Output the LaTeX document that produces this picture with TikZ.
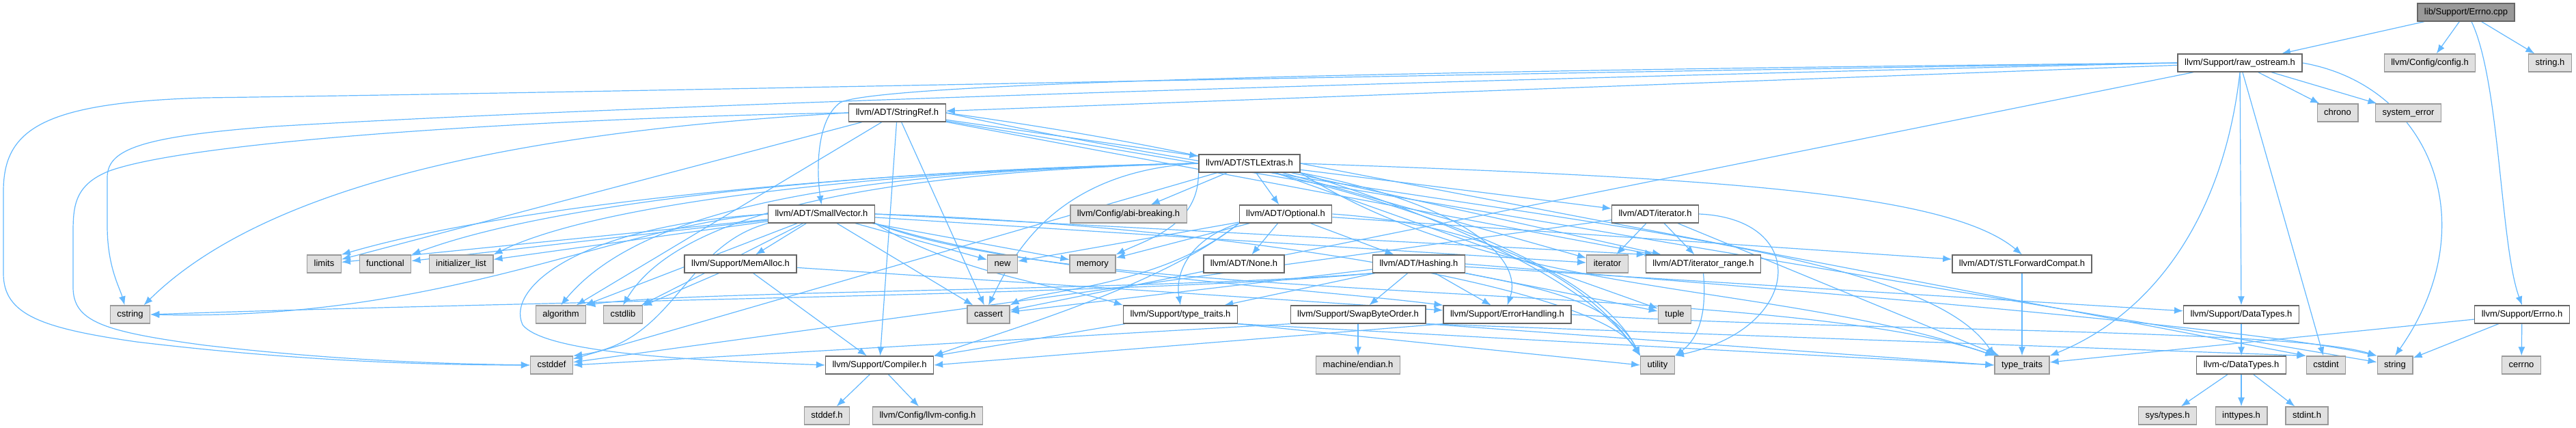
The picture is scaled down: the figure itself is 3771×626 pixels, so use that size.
\documentclass[tikz,border=0pt]{standalone}
\usepackage{fontspec}
\setmainfont{Liberation Sans}
\usetikzlibrary{arrows.meta,backgrounds}
\definecolor{edgeBlue}{HTML}{63B8FF}
\definecolor{boxLine}{HTML}{666666}
\definecolor{extLine}{HTML}{999999}
\definecolor{extFill}{HTML}{E0E0E0}
\definecolor{rootFill}{HTML}{999999}
\tikzset{
  incbox/.style={draw=boxLine, line width=1.3pt, fill=white, minimum height=26pt,
    inner xsep=10pt, inner ysep=0pt, text height=9.6pt, text depth=2.6pt,
    font=\fontsize{13}{15}\selectfont, text=black},
  sysbox/.style={incbox, draw=extLine, fill=extFill},
  rootbox/.style={incbox, fill=rootFill},
  dep/.style={-{Latex[length=13pt,width=10pt]}, line width=1.2pt, draw=edgeBlue}
}

\begin{document}
\begin{tikzpicture}[x=1pt, y=-1pt]
  \useasboundingbox (0,0) rectangle (3771,626);

  \node[rootbox] (errnocpp) at (3610,18) {lib/Support/Errno.cpp};

  \node[incbox] (rawostream) at (3279,92) {llvm/Support/raw\_ostream.h};
  \node[sysbox] (config) at (3557,92) {llvm/Config/config.h};
  \node[sysbox] (stringh) at (3733,92) {string.h};

  \node[incbox] (stringref) at (1313.5,165) {llvm/ADT/StringRef.h};
  \node[sysbox] (chrono) at (3422,165) {chrono};
  \node[sysbox] (syserror) at (3525.5,165) {system\_error};

  \node[incbox] (stlextras) at (1829,239) {llvm/ADT/STLExtras.h};

  \node[incbox] (smallvector) at (1202.5,313) {llvm/ADT/SmallVector.h};
  \node[sysbox] (abibreaking) at (1652,313) {llvm/Config/abi-breaking.h};
  \node[incbox] (optional) at (1882,313) {llvm/ADT/Optional.h};
  \node[incbox] (iteratorh) at (2423,313) {llvm/ADT/iterator.h};

  \node[sysbox] (limits) at (474.5,386) {limits};
  \node[sysbox] (functional) at (564,386) {functional};
  \node[sysbox] (initlist) at (675,386) {initializer\_list};
  \node[incbox] (memalloc) at (1084,386) {llvm/Support/MemAlloc.h};
  \node[sysbox] (new) at (1467.5,386) {new};
  \node[sysbox] (memory) at (1599.5,386) {memory};
  \node[incbox] (none) at (1821,386) {llvm/ADT/None.h};
  \node[incbox] (hashing) at (2077,386) {llvm/ADT/Hashing.h};
  \node[sysbox] (iterator) at (2353,386) {iterator};
  \node[incbox] (iterrange) at (2493.5,386) {llvm/ADT/iterator\_range.h};
  \node[incbox] (stlfwd) at (2960,386) {llvm/ADT/STLForwardCompat.h};

  \node[sysbox] (cstring) at (190.5,460) {cstring};
  \node[sysbox] (algorithm) at (821,460) {algorithm};
  \node[sysbox] (cstdlib) at (912,460) {cstdlib};
  \node[sysbox] (cassert) at (1447,460) {cassert};
  \node[incbox] (typetraitsh) at (1728,460) {llvm/Support/type\_traits.h};
  \node[incbox] (swapbyte) at (1988,460) {llvm/Support/SwapByteOrder.h};
  \node[incbox] (errorhandling) at (2206.5,460) {llvm/Support/ErrorHandling.h};
  \node[sysbox] (tuple) at (2451.5,460) {tuple};
  \node[incbox] (datatypes) at (3281,460) {llvm/Support/DataTypes.h};
  \node[incbox] (errnoh) at (3692,460) {llvm/Support/Errno.h};

  \node[sysbox] (cstddef) at (807.5,534) {cstddef};
  \node[incbox] (compiler) at (1287.5,534) {llvm/Support/Compiler.h};
  \node[sysbox] (endian) at (1988,534) {machine/endian.h};
  \node[sysbox] (utility) at (2426.5,534) {utility};
  \node[sysbox] (typetraits) at (2960,534) {type\_traits};
  \node[incbox] (cdatatypes) at (3281,534) {llvm-c/DataTypes.h};
  \node[sysbox] (cstdint) at (3405,534) {cstdint};
  \node[sysbox] (string) at (3506,534) {string};
  \node[sysbox] (cerrno) at (3691,534) {cerrno};

  \node[sysbox] (stddef) at (1210.5,608) {stddef.h};
  \node[sysbox] (llvmconfig) at (1358,608) {llvm/Config/llvm-config.h};
  \node[sysbox] (systypes) at (3173,608) {sys/types.h};
  \node[sysbox] (inttypes) at (3281,608) {inttypes.h};
  \node[sysbox] (stdint) at (3377,608) {stdint.h};

  \begin{scope}[on background layer]
    \draw[dep] (errnocpp) -- (rawostream);
    \draw[dep] (errnocpp) -- (config);
    \draw[dep] (errnocpp) -- (stringh);
    \draw[dep] ([xshift=8pt]errnocpp.south) .. controls (3660,120) and (3660,360) .. (errnoh.north);

    \draw[dep] (errnoh) -- (cerrno);
    \draw[dep] (errnoh) -- (string);
    \draw[dep] (errnoh) -- (typetraits);

    \draw[dep] (rawostream.west) .. controls (2400,100) and (1300,115) .. (1230,150) .. controls (1195,175) and (1195,250) .. (smallvector.north);
    \draw[dep] (rawostream) -- (stringref);
    \draw[dep] (rawostream) -- (datatypes);
    \draw[dep] (rawostream) -- (cassert);
    \draw[dep] (rawostream) -- (chrono);
    \draw[dep] (rawostream) -- (syserror);
    \draw[dep] (rawostream) -- (cstdint);
    \draw[dep] (rawostream.west) .. controls (2000,110) and (900,135) .. (300,143) .. controls (60,150) and (5,190) .. (5,280) -- (5,400) .. controls (5,460) and (60,480) .. (200,500) .. controls (450,530) and (650,534) .. (cstddef.west);
    \draw[dep] (rawostream.west) .. controls (2000,120) and (900,155) .. (400,185) .. controls (200,200) and (157,220) .. (157,260) -- (157,330) .. controls (157,390) and (175,420) .. ([xshift=-8pt]cstring.north);
    \draw[dep] (rawostream.east) .. controls (3560,125) and (3640,330) .. (string.north);
    \draw[dep] (rawostream.south) .. controls (3255,320) and (3150,460) .. (typetraits.north east);

    \draw[dep] (stringref) -- (stlextras);
    \draw[dep] (stringref) -- (iterrange);
    \draw[dep] (stringref) -- (compiler);
    \draw[dep] (stringref) -- (algorithm);
    \draw[dep] (stringref) -- (cassert);
    \draw[dep] (stringref) -- (limits);
    \draw[dep] (stringref) -- (string);
    \draw[dep] (stringref.east) .. controls (2100,320) and (2800,340) .. (typetraits.north west);
    \draw[dep] (stringref.east) .. controls (2000,250) and (2330,380) .. (utility.north west);
    \draw[dep] (stringref.west) .. controls (900,170) and (300,200) .. (160,250) .. controls (110,270) and (107,300) .. (107,340) -- (107,420) .. controls (107,470) and (150,485) .. (300,505) .. controls (500,528) and (650,532) .. (cstddef.west);
    \draw[dep] (stringref.west) .. controls (800,190) and (400,260) .. ([xshift=20pt]cstring.north);

    \draw[dep] (stlextras) -- (optional);
    \draw[dep] (stlextras.east) .. controls (2500,260) and (2850,280) .. (stlfwd.north);
    \draw[dep] (stlextras) -- (iteratorh);
    \draw[dep] (stlextras) -- (iterrange);
    \draw[dep] (stlextras) -- (abibreaking);
    \draw[dep] (stlextras.south east) .. controls (2150,300) and (2230,380) .. (errorhandling.north);
    \draw[dep] (stlextras.west) .. controls (1300,250) and (950,290) .. (algorithm.north);
    \draw[dep] (stlextras.west) .. controls (1540,250) and (1480,380) .. (cassert.north);
    \draw[dep] (stlextras) -- (cstddef);
    \draw[dep] (stlextras.east) -- (cstdint.north west);
    \draw[dep] (stlextras.west) .. controls (1330,250) and (1000,300) .. (cstdlib.north);
    \draw[dep] (stlextras.west) .. controls (1400,245) and (850,280) .. (functional.north east);
    \draw[dep] (stlextras.west) .. controls (1400,245) and (900,285) .. (initlist.north east);
    \draw[dep] (stlextras) -- (iterator);
    \draw[dep] (stlextras.west) .. controls (1400,245) and (800,285) .. (limits.north east);
    \draw[dep] (stlextras.south west) .. controls (1755,330) and (1680,350) .. (memory.north east);
    \draw[dep] (stlextras) -- (tuple);
    \draw[dep] (stlextras.south east) .. controls (2200,440) and (2600,410) .. (typetraits.north west);
    \draw[dep] (stlextras.south east) .. controls (2150,330) and (2330,420) .. (utility.north west);

    \draw[dep] (smallvector.east) -- (iterrange.north west);
    \draw[dep] (smallvector.south east) .. controls (1500,400) and (1900,420) .. (errorhandling.north west);
    \draw[dep] (smallvector) -- (memalloc);
    \draw[dep] (smallvector.south east) .. controls (1400,400) and (1560,420) .. (typetraitsh.north west);
    \draw[dep] (smallvector) -- (algorithm);
    \draw[dep] (smallvector) -- (cassert);
    \draw[dep] (smallvector) -- (cstdlib);
    \draw[dep] (smallvector) -- (functional);
    \draw[dep] (smallvector) -- (initlist);
    \draw[dep] (smallvector) -- (iterator);
    \draw[dep] (smallvector) -- (limits);
    \draw[dep] (smallvector) -- (memory);
    \draw[dep] (smallvector) -- (new);
    \draw[dep] (smallvector.south east) .. controls (1600,450) and (2600,410) .. (typetraits.north west);
    \draw[dep] (smallvector.east) .. controls (1800,330) and (2340,420) .. (utility.north west);
    \draw[dep] (smallvector.west) .. controls (850,330) and (740,420) .. (765,475) .. controls (800,520) and (1050,528) .. (compiler.west);
    \draw[dep] (smallvector.south west) .. controls (1000,360) and (990,500) .. (cstddef.north east);
    \draw[dep] (smallvector.west) .. controls (900,330) and (650,470) .. (cstring.east);

    \draw[dep] (optional) -- (hashing);
    \draw[dep] (optional) -- (none);
    \draw[dep] (optional) -- (stlfwd);
    \draw[dep] (optional.south west) .. controls (1700,420) and (1450,490) .. (compiler.north east);
    \draw[dep] (optional.south west) .. controls (1740,350) and (1720,400) .. (typetraitsh.north);
    \draw[dep] (optional.south west) .. controls (1700,420) and (1520,425) .. (cassert.north east);
    \draw[dep] (optional) -- (memory);
    \draw[dep] (optional) -- (new);
    \draw[dep] (optional.east) .. controls (2200,330) and (2330,420) .. (utility.north west);

    \draw[dep] (hashing) -- (datatypes);
    \draw[dep] (hashing) -- (errorhandling);
    \draw[dep] (hashing) -- (swapbyte);
    \draw[dep] (hashing) -- (typetraitsh);
    \draw[dep] (hashing.south west) .. controls (1700,425) and (1000,425) .. (algorithm.north east);
    \draw[dep] (hashing) -- (cassert);
    \draw[dep] (hashing.east) .. controls (2700,430) and (3300,480) .. (string.north west);
    \draw[dep] (hashing) -- (tuple);
    \draw[dep] (hashing.south east) .. controls (2250,420) and (2360,440) .. (utility.north west);
    \draw[dep] (hashing.south west) .. controls (1700,430) and (800,440) .. (cstring.east);

    \draw[dep] (iteratorh) -- (iterrange);
    \draw[dep] (iteratorh) -- (cstddef);
    \draw[dep] (iteratorh) -- (iterator);
    \draw[dep] (iteratorh) -- (typetraits);
    \draw[dep] (iteratorh.east) .. controls (2650,320) and (2640,480) .. (utility.north east);

    \draw[dep] (iterrange.south) .. controls (2500,470) and (2480,500) .. (utility.north east);
    \draw[dep] (stlfwd) -- (typetraits);

    \draw[dep] (typetraitsh) -- (compiler);
    \draw[dep] (typetraitsh.south east) -- (typetraits.west);
    \draw[dep] (typetraitsh.south east) -- (utility.west);

    \draw[dep] (swapbyte) -- (endian);
    \draw[dep] (swapbyte.south west) -- (cstddef.east);
    \draw[dep] (swapbyte.south east) -- (cstdint.north west);
    \draw[dep] (swapbyte.south east) -- (typetraits.west);

    \draw[dep] (errorhandling.south west) -- (compiler.east);
    \draw[dep] (errorhandling.east) .. controls (2700,485) and (3350,480) .. (string.north west);

    \draw[dep] (memalloc) -- (compiler);
    \draw[dep] (memalloc) -- (errorhandling);
    \draw[dep] (memalloc) -- (cstdlib);

    \draw[dep] (compiler) -- (stddef);
    \draw[dep] (compiler) -- (llvmconfig);

    \draw[dep] (datatypes) -- (cdatatypes);
    \draw[dep] (cdatatypes) -- (systypes);
    \draw[dep] (cdatatypes) -- (inttypes);
    \draw[dep] (cdatatypes) -- (stdint);
  \end{scope}
\end{tikzpicture}
\end{document}
